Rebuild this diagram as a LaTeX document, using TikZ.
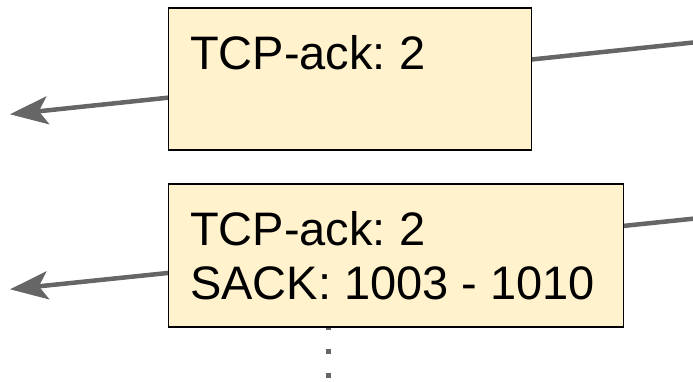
\documentclass[tikz,border=0pt]{standalone}
\usepackage{fontspec}
\setmainfont{Liberation Sans}
\usetikzlibrary{arrows.meta,backgrounds}
\definecolor{pktfill}{HTML}{FFF2CC}
\definecolor{wire}{HTML}{666666}
\frenchspacing
\tikzset{
  x=1pt, y=1pt,
  pkt/.style={draw=black, line width=1.6pt, fill=pktfill, inner sep=0pt, anchor=north west},
  pkttext/.style={anchor=base west, inner sep=0pt, font=\fontsize{47}{55}\selectfont},
  ackline/.style={draw=wire, line width=4.5pt, -{Stealth[length=38pt,width=28pt,inset=9pt]}},
  tail/.style={draw=wire, line width=5pt, dash pattern=on 5pt off 19pt}
}
\begin{document}
\begin{tikzpicture}
  \useasboundingbox (0,0) rectangle (693,-382);

  % packet boxes
  \node[pkt, minimum width=363pt, minimum height=142.5pt] (b1) at (167.5,-7) {};
  \node[pkttext] (t1) at (190,-69.7) {TCP-ack: 2};

  \node[pkt, minimum width=455pt, minimum height=143pt] (b2) at (167.5,-183) {};
  \node[pkttext] (t2a) at (190,-245.2) {TCP-ack: 2};
  \node[pkttext] (t2b) at (190,-299.8) {SACK: 1003 - 1010};

  % end points of the acknowledgement lines
  \coordinate (in1) at (700,-41.8);
  \coordinate (out1) at (10,-114.3);
  \coordinate (in2) at (700,-218);
  \coordinate (out2) at (10,-289.3);
  \coordinate (d0) at (328.3,-325);
  \coordinate (d1) at (328.3,-390);

  \begin{scope}[on background layer]
    \draw[ackline] (in1) -- (out1);
    \draw[ackline] (in2) -- (out2);
    \draw[tail] (d0) -- (d1);
  \end{scope}
\end{tikzpicture}
\end{document}
